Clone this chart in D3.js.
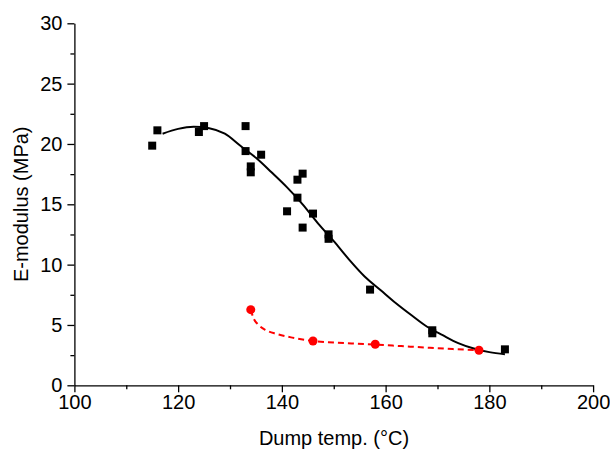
<!DOCTYPE html>
<html>
<head>
<meta charset="utf-8">
<script src="https://cdn.jsdelivr.net/npm/d3@7/dist/d3.min.js"></script>
<style>
  html, body { margin: 0; padding: 0; background: #fff; }
  svg text { font-family: Arial, "Liberation Sans", sans-serif; fill: #000; }
</style>
</head>
<body>
<svg id="chart" width="610" height="450"></svg>
<script>
// ---- data ----
const squareTemp = [115, 116, 124, 125, 133, 133, 136, 134, 134, 144, 143, 143, 141, 146, 144, 149, 149, 157, 169, 169, 183];
const squareMod  = [19.86, 21.13, 20.99, 21.48, 21.48, 19.41, 19.11, 18.14, 17.65, 17.54, 17.04, 15.55, 14.42, 14.23, 13.07, 12.51, 12.14, 7.93, 4.56, 4.31, 2.98];

const circleTemp = [134, 146, 158, 178];
const circleMod  = [6.27, 3.67, 3.40, 2.90];

// fitted black curve
const fitTemp = [117, 120, 123, 126, 129, 132, 135, 138, 141, 144, 147, 150, 153, 156, 159, 162, 165, 168, 171, 174, 177, 180, 183];
const fitMod  = [20.85, 21.25, 21.42, 21.3, 20.85, 19.85, 18.85, 17.65, 16.4, 15.0, 13.4, 11.95, 10.4, 9.0, 7.9, 6.8, 5.8, 4.85, 4.15, 3.5, 3.05, 2.75, 2.57];

// red dashed trend curve
const redTemp = [134, 134.5, 135.5, 137, 139, 142, 146, 150, 154, 158, 163, 168, 173, 178];
const redMod  = [6.27, 5.6, 5.0, 4.55, 4.25, 3.95, 3.67, 3.55, 3.46, 3.38, 3.25, 3.12, 3.0, 2.9];

const xTicks = [100, 120, 140, 160, 180, 200];
const xMinor = [110, 130, 150, 170, 190];
const yTicks = [0, 5, 10, 15, 20, 25, 30];
const yMinor = [2.5, 7.5, 12.5, 17.5, 22.5, 27.5];

const xTitle = "Dump temp. (°C)";
const yTitle = "E-modulus (MPa)";

// ---- layout ----
const svg = d3.select("#chart");
const x = d3.scaleLinear().domain([100, 200]).range([74.4, 593.1]);
const y = d3.scaleLinear().domain([0, 30]).range([385.3, 23.3]);

const fs = 20;

// axes
const xAxis = d3.axisBottom(x).tickValues(xTicks).tickSize(7).tickPadding(3).tickSizeOuter(0).tickFormat(d3.format("d"));
svg.append("g").attr("transform", `translate(0,${y(0)})`).call(xAxis);
const xMinorAxis = d3.axisBottom(x).tickValues(xMinor).tickSize(4).tickFormat("").tickSizeOuter(0);
svg.append("g").attr("transform", `translate(0,${y(0)})`).call(xMinorAxis).select(".domain").remove();

const yAxis = d3.axisLeft(y).tickValues(yTicks).tickSize(7).tickPadding(5).tickSizeOuter(0).tickFormat(d3.format("d"));
svg.append("g").attr("transform", `translate(${x(100)},0)`).call(yAxis);
const yMinorAxis = d3.axisLeft(y).tickValues(yMinor).tickSize(4).tickFormat("").tickSizeOuter(0);
svg.append("g").attr("transform", `translate(${x(100)},0)`).call(yMinorAxis).select(".domain").remove();

svg.selectAll(".domain, .tick line").attr("stroke", "#000").attr("stroke-width", 1.3);
svg.selectAll(".tick text").attr("font-size", fs).attr("font-family", "Arial, 'Liberation Sans', sans-serif").attr("fill", "#000");

// titles
svg.append("text")
  .attr("x", 334).attr("y", 445)
  .attr("text-anchor", "middle").attr("font-size", fs)
  .text(xTitle);
svg.append("text")
  .attr("transform", `translate(28,${(y(0) + y(30)) / 2}) rotate(-90)`)
  .attr("text-anchor", "middle").attr("font-size", fs)
  .text(yTitle);

// lines
const fitData = fitTemp.map((t, i) => [t, fitMod[i]]);
const redData = redTemp.map((t, i) => [t, redMod[i]]);
const line = d3.line().x(d => x(d[0])).y(d => y(d[1])).curve(d3.curveMonotoneX);

svg.append("path").datum(fitData).attr("d", line)
  .attr("fill", "none").attr("stroke", "#000").attr("stroke-width", 2);

svg.append("path").datum(redData).attr("d", line)
  .attr("fill", "none").attr("stroke", "#ff0000").attr("stroke-width", 2)
  .attr("stroke-dasharray", "6,4");

// markers
const sq = 8;
svg.append("g").selectAll("rect")
  .data(squareTemp.map((t, i) => [t, squareMod[i]]))
  .join("rect")
  .attr("x", d => x(d[0]) - sq / 2).attr("y", d => y(d[1]) - sq / 2)
  .attr("width", sq).attr("height", sq).attr("fill", "#000");

svg.append("g").selectAll("circle")
  .data(circleTemp.map((t, i) => [t, circleMod[i]]))
  .join("circle")
  .attr("cx", d => x(d[0])).attr("cy", d => y(d[1]))
  .attr("r", 4.5).attr("fill", "#ff0000");
</script>
</body>
</html>
